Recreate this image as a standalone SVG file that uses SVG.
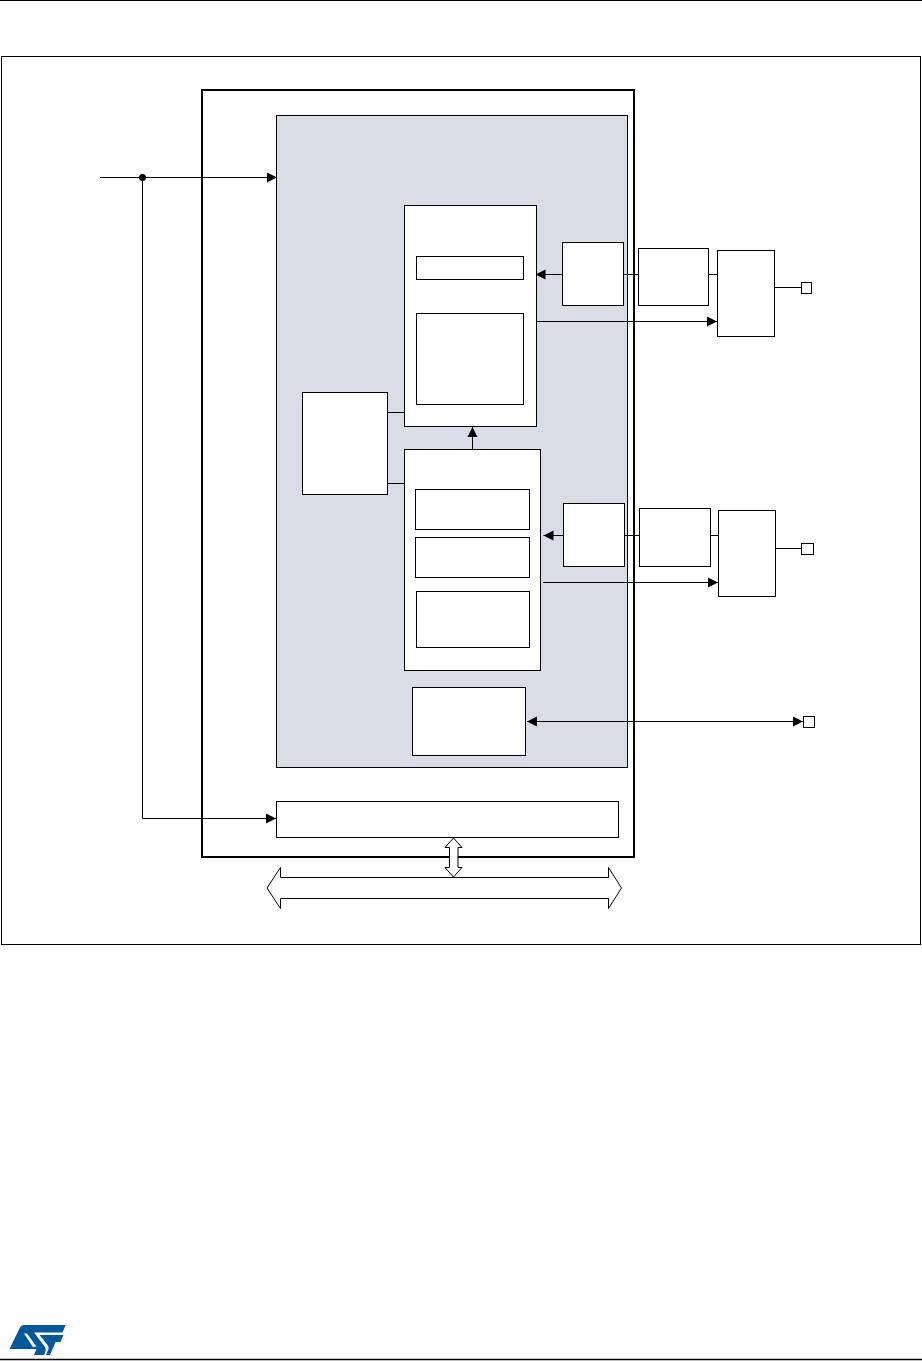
<svg xmlns="http://www.w3.org/2000/svg" width="922" height="1361" viewBox="0 0 922 1361">
<style>
.b{fill:#fff;stroke:#000;stroke-width:1}
.l{fill:none;stroke:#000;stroke-width:1}
.a{fill:none;stroke:#000;stroke-width:1;marker-end:url(#ah)}
.d{fill:none;stroke:#000;stroke-width:1;marker-start:url(#ahs);marker-end:url(#ah)}
.logo{fill:#03589b;fill-rule:evenodd}
</style>
<defs>
<marker id="ah" markerUnits="userSpaceOnUse" markerWidth="11" markerHeight="11" refX="10" refY="5.500" orient="auto"><path d="M0 0.500L10 5.500L0 10.500Z" fill="#000"/></marker>
<marker id="ahs" markerUnits="userSpaceOnUse" markerWidth="11" markerHeight="11" refX="0" refY="5.500" orient="auto"><path d="M10 0.500L0 5.500L10 10.500Z" fill="#000"/></marker>
</defs>
<rect width="922" height="1361" fill="#fff"/>
<g id="page">
<path class="l" d="M0 0.500H922"/>
<path d="M0 1359.500H922" fill="none" stroke="#000" stroke-width="1.500"/>
<path class="logo" d="M9.500 1349L20 1327.500Q21 1325 23.500 1325H65.700L62.500 1332.500H34L45 1347Q46.500 1350 45 1353L44 1355H34L36.500 1349ZM24 1333.500H27L36.500 1346.500L33 1347Z"/>
<path class="logo" d="M39.500 1335H63.500L60.500 1342H55.500L50 1355H46L48.500 1349Q49 1347 47.500 1345Z"/>
<rect class="b" x="1.500" y="56.500" width="919" height="888"/>
</g>
<g id="device"><rect x="202" y="90" width="432" height="767" fill="#fff" stroke="#000" stroke-width="2"/></g>
<g id="core"><rect x="276.500" y="115.500" width="351" height="652" fill="#d9dee6" stroke="#000"/></g>
<g id="connectors">
<path class="a" d="M100 177.500H277"/>
<path class="a" d="M142.500 177.500V818.500H276"/>
<circle cx="142.500" cy="177.500" r="3.500" fill="#000"/>
<path class="a" d="M562 274.500H535.500"/>
<path class="l" d="M623.500 274.500H638.500M708.500 274.500H717.500M774.500 287.500H801"/>
<path class="a" d="M537 321.500H717"/>
<path class="a" d="M472.500 449V427"/>
<path class="l" d="M387.500 412.500H404.500M387.500 483.500H404.500"/>
<path class="a" d="M563 535.500H543.500"/>
<path class="l" d="M624.500 535.500H639.500M710.500 535.500H718.500M775.500 548.500H801.500"/>
<path class="a" d="M543 582.500H718"/>
<path class="d" d="M527 721.500H803"/>
</g>
<g id="box-a"><rect class="b" x="404.500" y="205.500" width="132" height="221"/></g>
<g id="box-a1"><rect class="b" x="416.500" y="256.500" width="107" height="23"/></g>
<g id="box-a2"><rect class="b" x="416.500" y="313.500" width="107" height="91"/></g>
<g id="box-a3"><rect class="b" x="562.500" y="242.500" width="61" height="63"/></g>
<g id="box-a4"><rect class="b" x="638.500" y="248.500" width="70" height="57"/></g>
<g id="box-a5"><rect class="b" x="717.500" y="250.500" width="57" height="86"/></g>
<g id="pin-a"><rect class="b" x="801.500" y="282.500" width="10" height="11"/></g>
<g id="box-left"><rect class="b" x="302.500" y="392.500" width="85" height="102"/></g>
<g id="box-b"><rect class="b" x="404.500" y="449.500" width="136" height="221"/></g>
<g id="box-b1"><rect class="b" x="415.500" y="489.500" width="114" height="40"/></g>
<g id="box-b2"><rect class="b" x="415.500" y="537.500" width="114" height="40"/></g>
<g id="box-b3"><rect class="b" x="416.500" y="591.500" width="113" height="56"/></g>
<g id="box-b4"><rect class="b" x="563.500" y="503.500" width="61" height="63"/></g>
<g id="box-b5"><rect class="b" x="639.500" y="508.500" width="71" height="58"/></g>
<g id="box-b6"><rect class="b" x="718.500" y="510.500" width="57" height="86"/></g>
<g id="pin-b"><rect class="b" x="801.500" y="543.500" width="12" height="11"/></g>
<g id="box-c"><rect class="b" x="412.500" y="687.500" width="113" height="68"/></g>
<g id="pin-c"><rect class="b" x="803.500" y="716.500" width="11" height="11"/></g>
<g id="bar"><rect class="b" x="276.500" y="801.500" width="342" height="36"/></g>
<g id="bus"><path class="b" d="M280.500 867.500V877.500H608.500V867.500L621.500 888L608.500 908.500V898.500H280.500V908.500L267 888Z"/></g>
<g id="bus-link"><path d="M453.500 838L462 847.500H458V867.500H462L453.500 877L445 867.500H449.500V847.500H445Z" fill="#fff" stroke="#000"/></g>
</svg>
